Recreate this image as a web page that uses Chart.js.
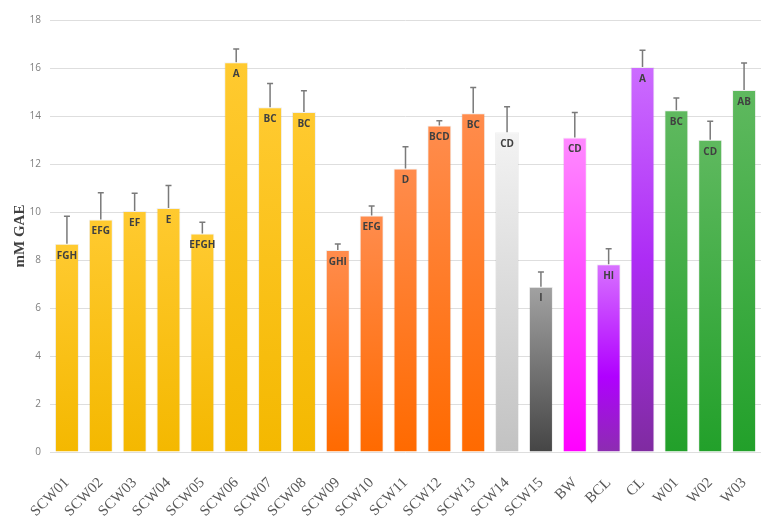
<!DOCTYPE html>
<html>
<head>
<meta charset="utf-8">
<script src="https://cdn.jsdelivr.net/npm/chart.js@4.4.1/dist/chart.umd.min.js"></script>
<style>
    html, body { margin: 0; padding: 0; background: #fff; }
    #wrap { width: 776px; height: 520px; position: relative; }
</style>
</head>
<body>
<div id="wrap"><canvas id="gaeChart"></canvas></div>
<script>
// Chart data
const categories = ['SCW01', 'SCW02', 'SCW03', 'SCW04', 'SCW05', 'SCW06', 'SCW07', 'SCW08',
    'SCW09', 'SCW10', 'SCW11', 'SCW12', 'SCW13', 'SCW14', 'SCW15', 'BW', 'BCL', 'CL', 'W01', 'W02', 'W03'];
const means = [8.68, 9.69, 10.04, 10.17, 9.10, 16.24, 14.36, 14.17,
    8.42, 9.85, 11.81, 13.60, 14.11, 13.32, 6.89, 13.10, 7.82, 16.04, 14.24, 13.01, 15.08];
const errors = [1.14, 1.11, 0.74, 0.93, 0.47, 0.55, 0.99, 0.88,
    0.25, 0.40, 0.91, 0.20, 1.08, 1.07, 0.61, 1.05, 0.65, 0.70, 0.51, 0.77, 1.13];
const letters = ['FGH', 'EFG', 'EF', 'E', 'EFGH', 'A', 'BC', 'BC',
    'GHI', 'EFG', 'D', 'BCD', 'BC', 'CD', 'I', 'CD', 'HI', 'A', 'BC', 'CD', 'AB'];
const groups = ['yellow', 'yellow', 'yellow', 'yellow', 'yellow', 'yellow', 'yellow', 'yellow',
    'orange', 'orange', 'orange', 'orange', 'orange', 'light', 'dark', 'pink', 'violet', 'purple',
    'green', 'green', 'green'];
const yTicks = [0, 2, 4, 6, 8, 10, 12, 14, 16, 18];

// Gradient stops per colour group (top -> bottom)
const palette = {
    yellow: [[0, '#ffca30'], [1, '#f4b800']],
    orange: [[0, '#ff8c4d'], [1, '#ff6a00']],
    light:  [[0, '#f3f3f3'], [1, '#c2c2c2']],
    dark:   [[0, '#a2a2a2'], [1, '#454545']],
    pink:   [[0, '#ff8aff'], [1, '#ff00ff']],
    violet: [[0, '#d872ff'], [0.6, '#b000ff'], [1, '#8c2db0']],
    purple: [[0, '#cc6cff'], [0.5, '#ad2cf5'], [1, '#7f2ba0']],
    green:  [[0, '#5fb95f'], [1, '#22a02a']]
};

function barFill(ctx) {
    const chart = ctx.chart;
    const area = chart.chartArea;
    const stops = palette[groups[ctx.dataIndex]];
    if (!area) return stops[0][1];
    const top = chart.scales.y.getPixelForValue(means[ctx.dataIndex]);
    const g = chart.ctx.createLinearGradient(0, top, 0, area.bottom);
    stops.forEach(s => g.addColorStop(s[0], s[1]));
    return g;
}

// Error bars and letter labels
const errorBarPlugin = {
    id: 'errorBars',
    afterDatasetsDraw(chart) {
        const ctx = chart.ctx;
        const y = chart.scales.y;
        const meta = chart.getDatasetMeta(0);
        ctx.save();
        meta.data.forEach((bar, i) => {
            const yTop = y.getPixelForValue(means[i]);
            const yErr = y.getPixelForValue(means[i] + errors[i]);
            ctx.strokeStyle = '#7a7a7a';
            ctx.lineWidth = 1.5;
            ctx.beginPath();
            ctx.moveTo(bar.x, yTop);
            ctx.lineTo(bar.x, yErr);
            ctx.moveTo(bar.x - 3, yErr);
            ctx.lineTo(bar.x + 3, yErr);
            ctx.stroke();

            ctx.fillStyle = '#404040';
            ctx.font = 'bold 10px "Open Sans", sans-serif';
            ctx.textAlign = 'center';
            ctx.textBaseline = 'middle';
            ctx.fillText(letters[i], bar.x, yTop + 12);
        });
        ctx.restore();
    }
};

new Chart(document.getElementById('gaeChart'), {
    type: 'bar',
    data: {
        labels: categories,
        datasets: [{
            data: means,
            backgroundColor: barFill,
            borderColor: 'rgba(0, 0, 0, 0.06)',
            borderWidth: 1,
            categoryPercentage: 1,
            barPercentage: 0.71
        }]
    },
    options: {
        responsive: true,
        maintainAspectRatio: false,
        animation: false,
        layout: { padding: { top: 20, right: 15, left: 0, bottom: 0 } },
        plugins: {
            legend: { display: false },
            tooltip: { enabled: false }
        },
        scales: {
            x: {
                grid: { display: false },
                border: { display: false },
                ticks: {
                    color: '#595959',
                    font: { family: '"Liberation Serif", serif', size: 15 },
                    minRotation: 45,
                    maxRotation: 45,
                    padding: 14
                },
                afterFit: scale => { scale.height = 68; }
            },
            y: {
                min: 0,
                max: 18,
                afterBuildTicks: scale => { scale.ticks = yTicks.map(v => ({ value: v })); },
                grid: { color: '#dedede', lineWidth: 1, drawTicks: false },
                border: { display: false },
                ticks: {
                    color: '#7f7f7f',
                    font: { family: '"Open Sans", sans-serif', size: 10 },
                    padding: 9
                },
                title: {
                    display: true,
                    text: 'mM GAE',
                    color: '#404040',
                    font: { family: '"Liberation Serif", serif', size: 15, weight: 'bold' },
                    padding: { top: 11, bottom: 0 }
                },
                afterFit: scale => { scale.width = 50; }
            }
        }
    },
    plugins: [errorBarPlugin]
});
</script>
</body>
</html>
